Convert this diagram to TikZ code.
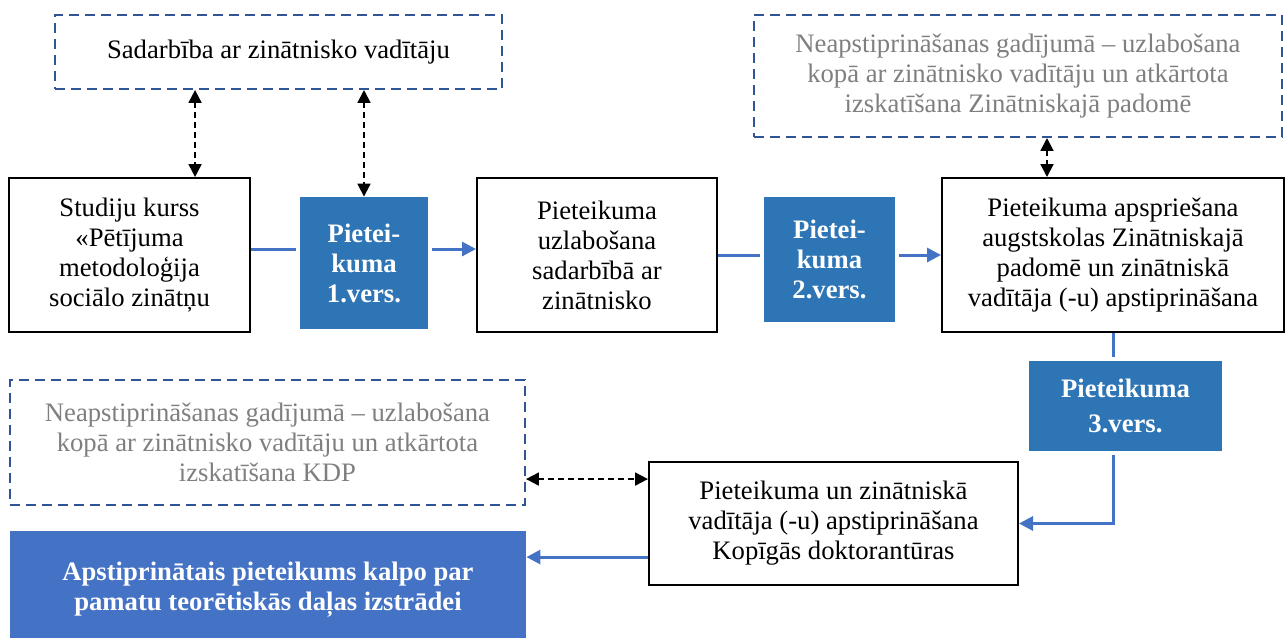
\documentclass[tikz,border=0pt]{standalone}
\usepackage{fontspec}
\setmainfont{Liberation Serif}
\usetikzlibrary{arrows.meta,calc}
\definecolor{versblue}{HTML}{2E75B6}
\definecolor{lineblue}{HTML}{4472C4}
\definecolor{noteblue}{HTML}{2F5597}
\definecolor{notegray}{HTML}{7F7F7F}
\tikzset{box/.style={draw, rectangle, line width=0.9pt, align=center, inner sep=2pt, font=\fontsize{12}{13.5}\selectfont}}
\tikzset{vers/.style={rectangle, fill=versblue, text=white, align=center, inner sep=2pt, font=\bfseries\fontsize{12}{13.5}\selectfont}}
\tikzset{note/.style={draw=noteblue, rectangle, dash pattern=on 4.5pt off 2.7pt, line width=0.9pt, align=center, inner sep=2pt, text=notegray, font=\fontsize{12}{13.5}\selectfont}}
\tikzset{result/.style={rectangle, fill=lineblue, text=white, align=center, inner sep=2pt, font=\bfseries\fontsize{12}{13.5}\selectfont}}
\tikzset{line/.style={draw=lineblue, line width=1.35pt, -{Triangle[length=6.3pt, width=6.3pt]}}}
\tikzset{link/.style={draw, line width=0.9pt, dash pattern=on 2.7pt off 1.8pt, {Triangle[length=5.8pt, width=5.8pt]}-{Triangle[length=5.8pt, width=5.8pt]}}}

\begin{document}
\begin{tikzpicture}[x=0.45pt, y=-0.45pt]
    \useasboundingbox (0,0) rectangle (1285,637);

    % upper row
    \node [box, minimum width=108.45pt, minimum height=69.3pt] (studiju) at (129.5,255) {Studiju kurss\\«Pētījuma\\metodoloģija\\sociālo zinātņu};
    \node [vers, minimum width=57.6pt, minimum height=59.4pt] (ver1) at (364,263) {Pietei-\\kuma\\1.vers.};
    \node [box, minimum width=108pt, minimum height=69.3pt] (uzlab) at (597,255) {Pieteikuma\\uzlabošana\\sadarbībā ar\\zinātnisko};
    \node [vers, minimum width=58.95pt, minimum height=56.25pt] (ver2) at (829.5,259.5) {Pietei-\\kuma\\2.vers.};
    \node [box, minimum width=153.9pt, minimum height=69.3pt] (apspr) at (1113,255) {Pieteikuma apspriešana\\augstskolas Zinātniskajā\\padomē un zinātniskā\\vadītāja (-u) apstiprināšana};

    \node [note, text=black, minimum width=201.15pt, minimum height=33.3pt] (sadarb) at (278.5,52) {Sadarbība ar zinātnisko vadītāju};
    \node [note, minimum width=237.6pt, minimum height=54.9pt] (neaptop) at (1018,76) {Neapstiprināšanas gadījumā – uzlabošana\\kopā ar zinātnisko vadītāju un atkārtota\\izskatīšana Zinātniskajā padomē};

    % lower part
    \node [vers, minimum width=86.85pt, minimum height=40.5pt, font=\bfseries\fontsize{12}{15.5}\selectfont] (ver3) at (1125.5,406) {Pieteikuma\\3.vers.};
    \node [box, minimum width=166.05pt, minimum height=55.35pt] (kdp) at (833.5,523.5) {Pieteikuma un zinātniskā\\vadītāja (-u) apstiprināšana\\Kopīgās doktorantūras};
    \node [note, minimum width=231.75pt, minimum height=56.25pt] (neapkdp) at (267.5,442.5) {Neapstiprināšanas gadījumā – uzlabošana\\kopā ar zinātnisko vadītāju un atkārtota\\izskatīšana KDP};
    \node [result, minimum width=232.2pt, minimum height=53.1pt] (final) at (268,590) {Apstiprinātais pieteikums kalpo par\\pamatu teorētiskās daļas izstrādei};

    \coordinate (s1) at ([yshift=2.7pt]studiju.east);
    \path [line, -, shorten >=1.8pt] (s1) -- (s1 -| ver1.west);
    \path [line, shorten <=1.8pt] (s1 -| ver1.east) -- (s1 -| uzlab.west);
    \path [line, -, shorten >=1.8pt] (uzlab.east) -- (uzlab.east -| ver2.west);
    \path [line, shorten <=1.8pt] (uzlab.east -| ver2.east) -- (apspr.west);

    \path [line, -, shorten >=1.8pt] (apspr.south) -- (apspr.south |- ver3.north);
    \path [line, shorten <=1.8pt] (apspr.south |- ver3.south) |- (kdp.east);

    \coordinate (k1) at ([yshift=-15.1pt]kdp.west);
    \path [line] (k1) -- (k1 -| final.east);

    \coordinate (k2) at ([yshift=20pt]kdp.west);
    \path [link] (k2 -| neapkdp.east) -- (k2);

    \coordinate (t1) at ([xshift=29.5pt]studiju.north);
    \path [link] (t1 |- sadarb.south) -- (t1);
    \path [link] (ver1.north |- sadarb.south) -- (ver1.north);
    \coordinate (t2) at ([xshift=-29.7pt]apspr.north);
    \path [link] (t2 |- neaptop.south) -- (t2);
\end{tikzpicture}
\end{document}
